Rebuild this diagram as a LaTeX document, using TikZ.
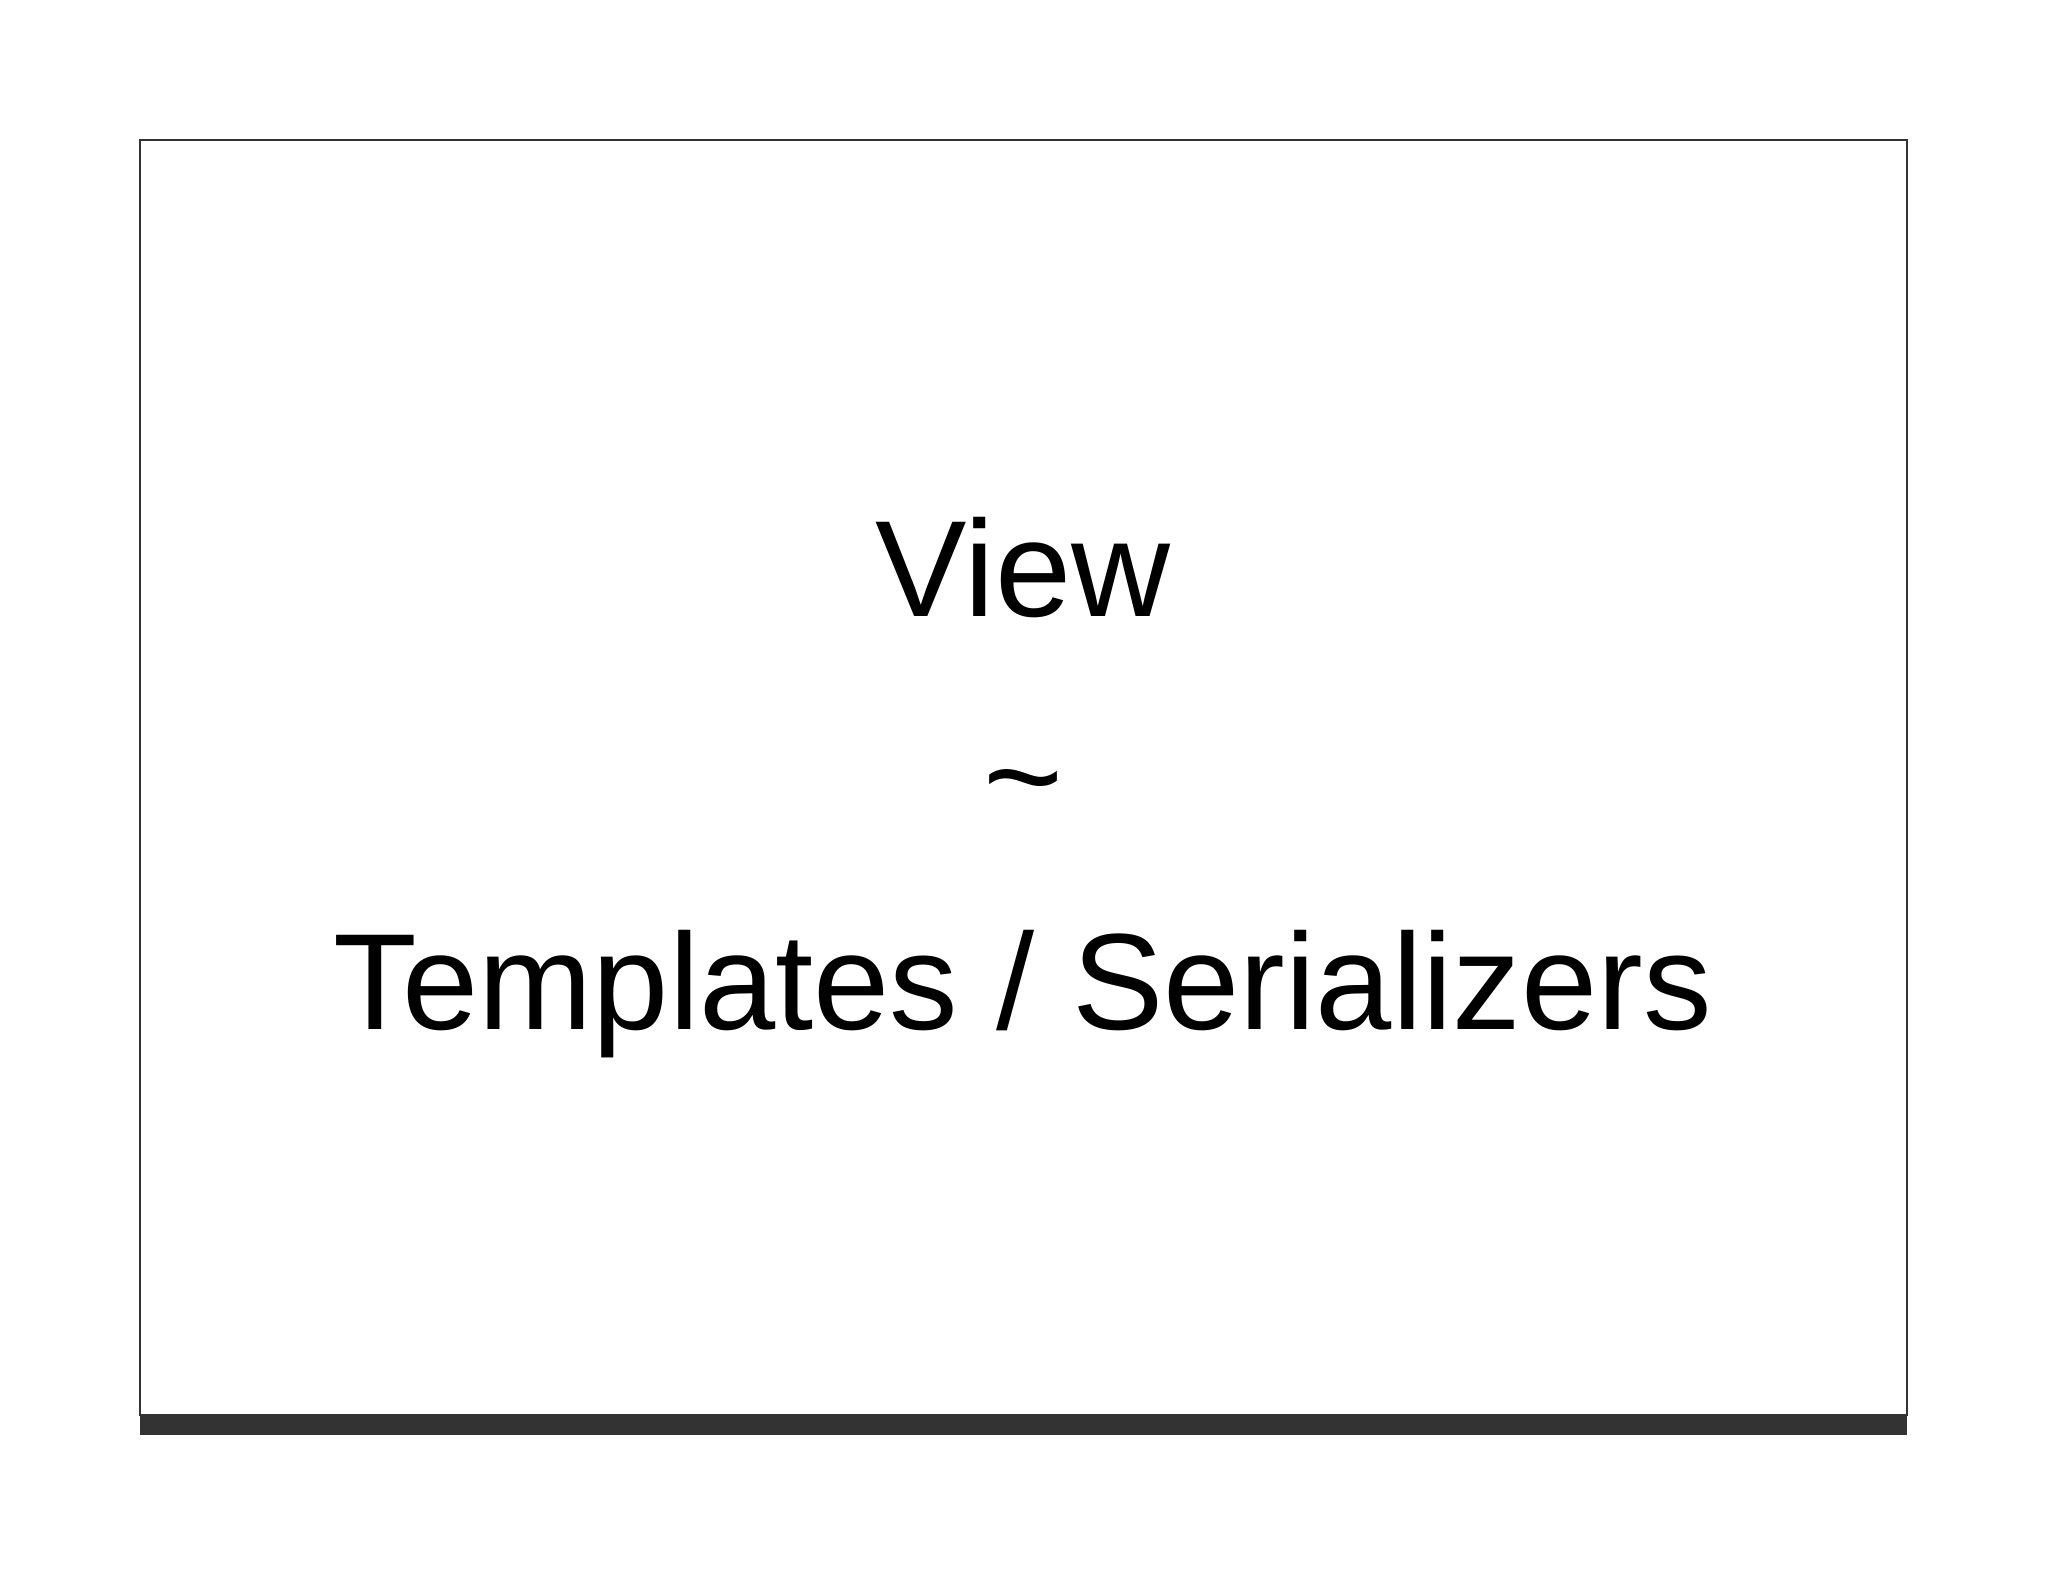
\documentclass[tikz,border=0pt]{standalone}
\usepackage{fontspec}
\setmainfont{Liberation Sans}
\begin{document}
\begin{tikzpicture}[x=1pt,y=-1pt,
  big/.style={font=\fontsize{137}{160}\selectfont, anchor=base, inner sep=0pt}]
\useasboundingbox (0,0) rectangle (2048,1582);
\fill[white] (0,0) rectangle (2048,1582);
\draw[line width=1.5pt, black!80] (140,140) rectangle (1907,1415);
\fill[black!80] (140,1415) rectangle (1907,1435);
\node[big] (view) at (1023,616) {View};
\node[big] (tilde) at (1023,823) {\char`~};
\node[big] (tpl) at (1023,1029) {Templates / Serializers};
\end{tikzpicture}
\end{document}
